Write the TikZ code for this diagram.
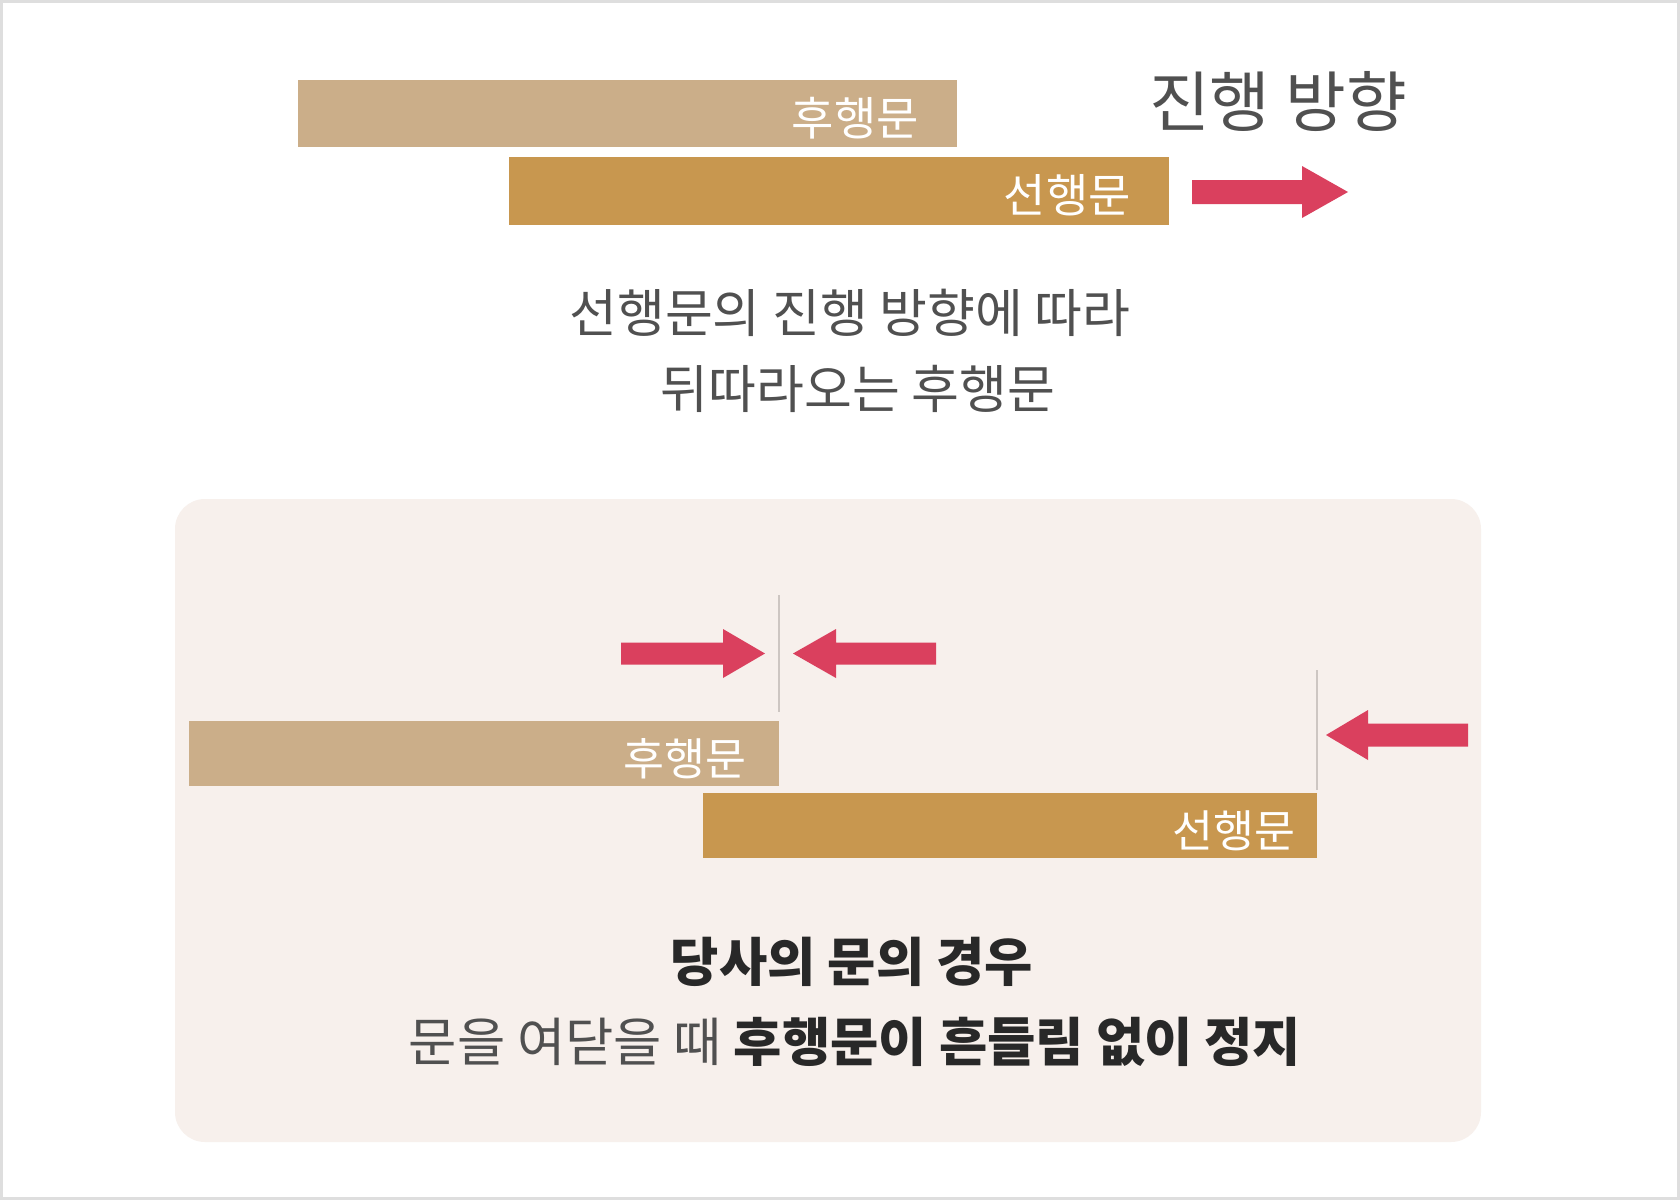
\documentclass[tikz,border=0pt]{standalone}
\usepackage{fontspec}
\setmainfont{Noto Sans CJK KR}
\definecolor{barlight}{RGB}{203,174,137}
\definecolor{bardark}{RGB}{200,151,79}
\definecolor{arrowred}{RGB}{218,64,94}
\definecolor{panel}{RGB}{247,240,236}
\definecolor{framegray}{RGB}{222,222,222}
\definecolor{txtgray}{RGB}{80,80,80}
\definecolor{txtdark}{RGB}{40,40,40}
\definecolor{guide}{RGB}{205,198,194}
\begin{document}
\begin{tikzpicture}[x=1pt,y=-1pt,
  bar/.style={inner sep=0pt, outer sep=0pt, anchor=north west},
  barlabel/.style={anchor=base east, inner sep=0pt, text=white, font=\fontsize{46pt}{50pt}\selectfont},
  bigtxt/.style={anchor=base, inner sep=0pt, text=txtgray, font=\fontsize{52pt}{56pt}\selectfont},
  redarrow/.style={fill=arrowred},
  guideline/.style={draw=guide, line width=1.5pt}]
\useasboundingbox (0,0) rectangle (1680,1200);
\fill[white] (0,0) rectangle (1680,1200);
\draw[framegray, line width=3pt] (1.5,1.5) rectangle (1678.5,1198.5);

% ---------- top part ----------
\node[bar, fill=barlight, minimum width=659pt, minimum height=67pt] (topH) at (298,80) {};
\node[barlabel] (topHl) at (919,135) {후행문};
\node[bar, fill=bardark, minimum width=660pt, minimum height=68pt] (topS) at (509,157) {};
\node[barlabel] (topSl) at (1131,212) {선행문};
\node[anchor=base, inner sep=0pt, text=txtgray, font=\fontsize{66pt}{70pt}\selectfont] (dir) at (1278,126) {진행 방향};
\fill[redarrow] (1192,180) -- (1302,180) -- (1302,166) -- (1348,192) -- (1302,218) -- (1302,204) -- (1192,204) -- cycle;
\node[bigtxt] (d1) at (850,332) {선행문의 진행 방향에 따라};
\node[bigtxt] (d2) at (858,408) {뒤따라오는 후행문};

% ---------- bottom panel ----------
\fill[panel, rounded corners=30pt] (175,499) rectangle (1481,1142);
\draw[guideline] (779,595) -- (779,712);
\draw[guideline] (1317,670) -- (1317,790);
\node[bar, fill=barlight, minimum width=590pt, minimum height=65pt] (botH) at (189,721) {};
\node[barlabel, font=\fontsize{44.5pt}{48pt}\selectfont] (botHl) at (747,775) {후행문};
\node[bar, fill=bardark, minimum width=614pt, minimum height=65pt] (botS) at (703,793) {};
\node[barlabel, font=\fontsize{44.5pt}{48pt}\selectfont] (botSl) at (1296,847) {선행문};

\fill[redarrow] (621,642.5) -- (723,642.5) -- (723,629) -- (765,653.5) -- (723,678) -- (723,664.5) -- (621,664.5) -- cycle;
\fill[redarrow] (936,642.5) -- (836,642.5) -- (836,629) -- (793,653.5) -- (836,678) -- (836,664.5) -- (936,664.5) -- cycle;
\fill[redarrow] (1468,723.5) -- (1368,723.5) -- (1368,710) -- (1326,735) -- (1368,760) -- (1368,746.5) -- (1468,746.5) -- cycle;

\node[bigtxt, text=txtdark, font=\fontsize{52.5pt}{56pt}\selectfont\bfseries] (c1) at (852,981) {당사의 문의 경우};
\node[bigtxt, font=\fontsize{52.5pt}{56pt}\selectfont] (c2) at (855,1061) {문을 여닫을 때 \textcolor{txtdark}{\bfseries 후행문이 흔들림 없이 정지}};
\end{tikzpicture}
\end{document}
